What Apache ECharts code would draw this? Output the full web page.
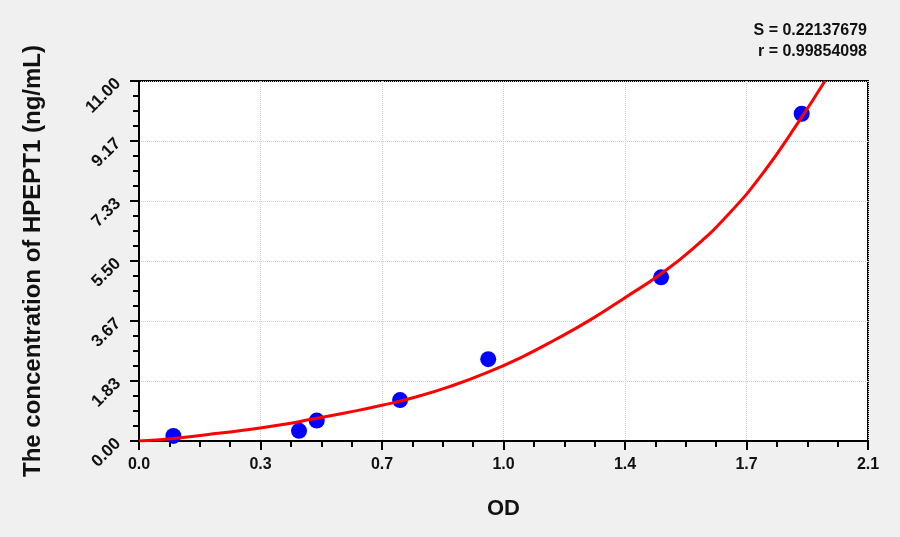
<!DOCTYPE html>
<html>
<head>
<meta charset="utf-8">
<script src="https://cdn.jsdelivr.net/npm/echarts@6/dist/echarts.min.js"></script>
<style>
html,body{margin:0;padding:0;background:#f0f0f0;}
#c{width:900px;height:537px;}
</style>
</head>
<body>
<div id="c"></div>
<script>
// Measured standards (OD, concentration)
const pointOD = [0.099, 0.461, 0.512, 0.752, 1.006, 1.504, 1.909];
const pointConc = [0.156, 0.312, 0.625, 1.25, 2.5, 5.0, 10.0];
// Fitted curve
const curveOD = [0.0, 0.1, 0.2, 0.3, 0.4, 0.5, 0.6, 0.7, 0.8, 0.9, 1.0, 1.1, 1.2, 1.3, 1.4, 1.5, 1.6, 1.7, 1.8, 1.9, 1.976];
const curveConc = [0.0, 0.08, 0.20, 0.33, 0.48, 0.67, 0.87, 1.09, 1.35, 1.68, 2.08, 2.55, 3.10, 3.70, 4.38, 5.08, 5.92, 6.95, 8.22, 9.75, 11.0];
const xTickLabels = ['0.0', '0.3', '0.7', '1.0', '1.4', '1.7', '2.1'];
const yTickLabels = ['0.00', '1.83', '3.67', '5.50', '7.33', '9.17', '11.00'];
const statS = 'S = 0.22137679';
const statR = 'r = 0.99854098';

const xStep = 2.1 / 6;
const yStep = 11 / 6;
const font = '"Liberation Sans", Arial, sans-serif';

const chart = echarts.init(document.getElementById('c'));
chart.setOption({
  backgroundColor: '#f0f0f0',
  animation: false,
  grid: {
    left: 139, right: 32, top: 81, bottom: 96,
    show: true, backgroundColor: '#ffffff', borderColor: '#000000', borderWidth: 2
  },
  graphic: [
    { type: 'text', right: 33, top: 23, style: { text: statS, font: 'bold 16px ' + font, fill: '#111', textAlign: 'right' } },
    { type: 'text', right: 33, top: 44, style: { text: statR, font: 'bold 16px ' + font, fill: '#111', textAlign: 'right' } }
  ],
  xAxis: {
    type: 'value', min: 0, max: 2.1, interval: xStep,
    name: 'OD', nameLocation: 'middle', nameGap: 57,
    nameTextStyle: { fontSize: 22, fontWeight: 'bold', color: '#111', fontFamily: font },
    axisLine: { show: true, onZero: false, lineStyle: { color: '#000', width: 2 } },
    axisTick: { show: true, length: 9, lineStyle: { color: '#000', width: 2 } },
    minorTick: { show: true, splitNumber: 4, length: 6, lineStyle: { color: '#000', width: 2 } },
    axisLabel: {
      margin: 16, fontSize: 16, fontWeight: 'bold', color: '#111', fontFamily: font,
      formatter: v => xTickLabels[Math.round(v / xStep)] || ''
    },
    splitLine: { show: true, lineStyle: { color: '#cccccc', type: 'dotted', width: 1 } }
  },
  yAxis: {
    type: 'value', min: 0, max: 11, interval: yStep,
    name: 'The concentration of HPEPT1 (ng/mL)', nameLocation: 'middle', nameGap: 94,
    nameTextStyle: { fontSize: 24, fontWeight: 'bold', color: '#111', fontFamily: font },
    axisLine: { show: true, onZero: false, lineStyle: { color: '#000', width: 2 } },
    axisTick: { show: true, length: 9, lineStyle: { color: '#000', width: 2 } },
    minorTick: { show: true, splitNumber: 4, length: 6, lineStyle: { color: '#000', width: 2 } },
    axisLabel: {
      margin: 21, rotate: 45, fontSize: 17, fontWeight: 'bold', color: '#111', fontFamily: font,
      formatter: v => yTickLabels[Math.round(v / yStep)] || ''
    },
    splitLine: { show: true, lineStyle: { color: '#cccccc', type: 'dotted', width: 1 } }
  },
  series: [
    {
      type: 'line', data: curveOD.map((x, i) => [x, curveConc[i]]),
      smooth: 0.5, showSymbol: false, symbol: 'none', clip: true,
      lineStyle: { color: '#ff0000', width: 3 }, z: 3
    },
    {
      type: 'scatter', data: pointOD.map((x, i) => [x, pointConc[i]]),
      symbolSize: 16, itemStyle: { color: '#0000ff', opacity: 1 }, z: 2
    }
  ]
});
</script>
</body>
</html>
